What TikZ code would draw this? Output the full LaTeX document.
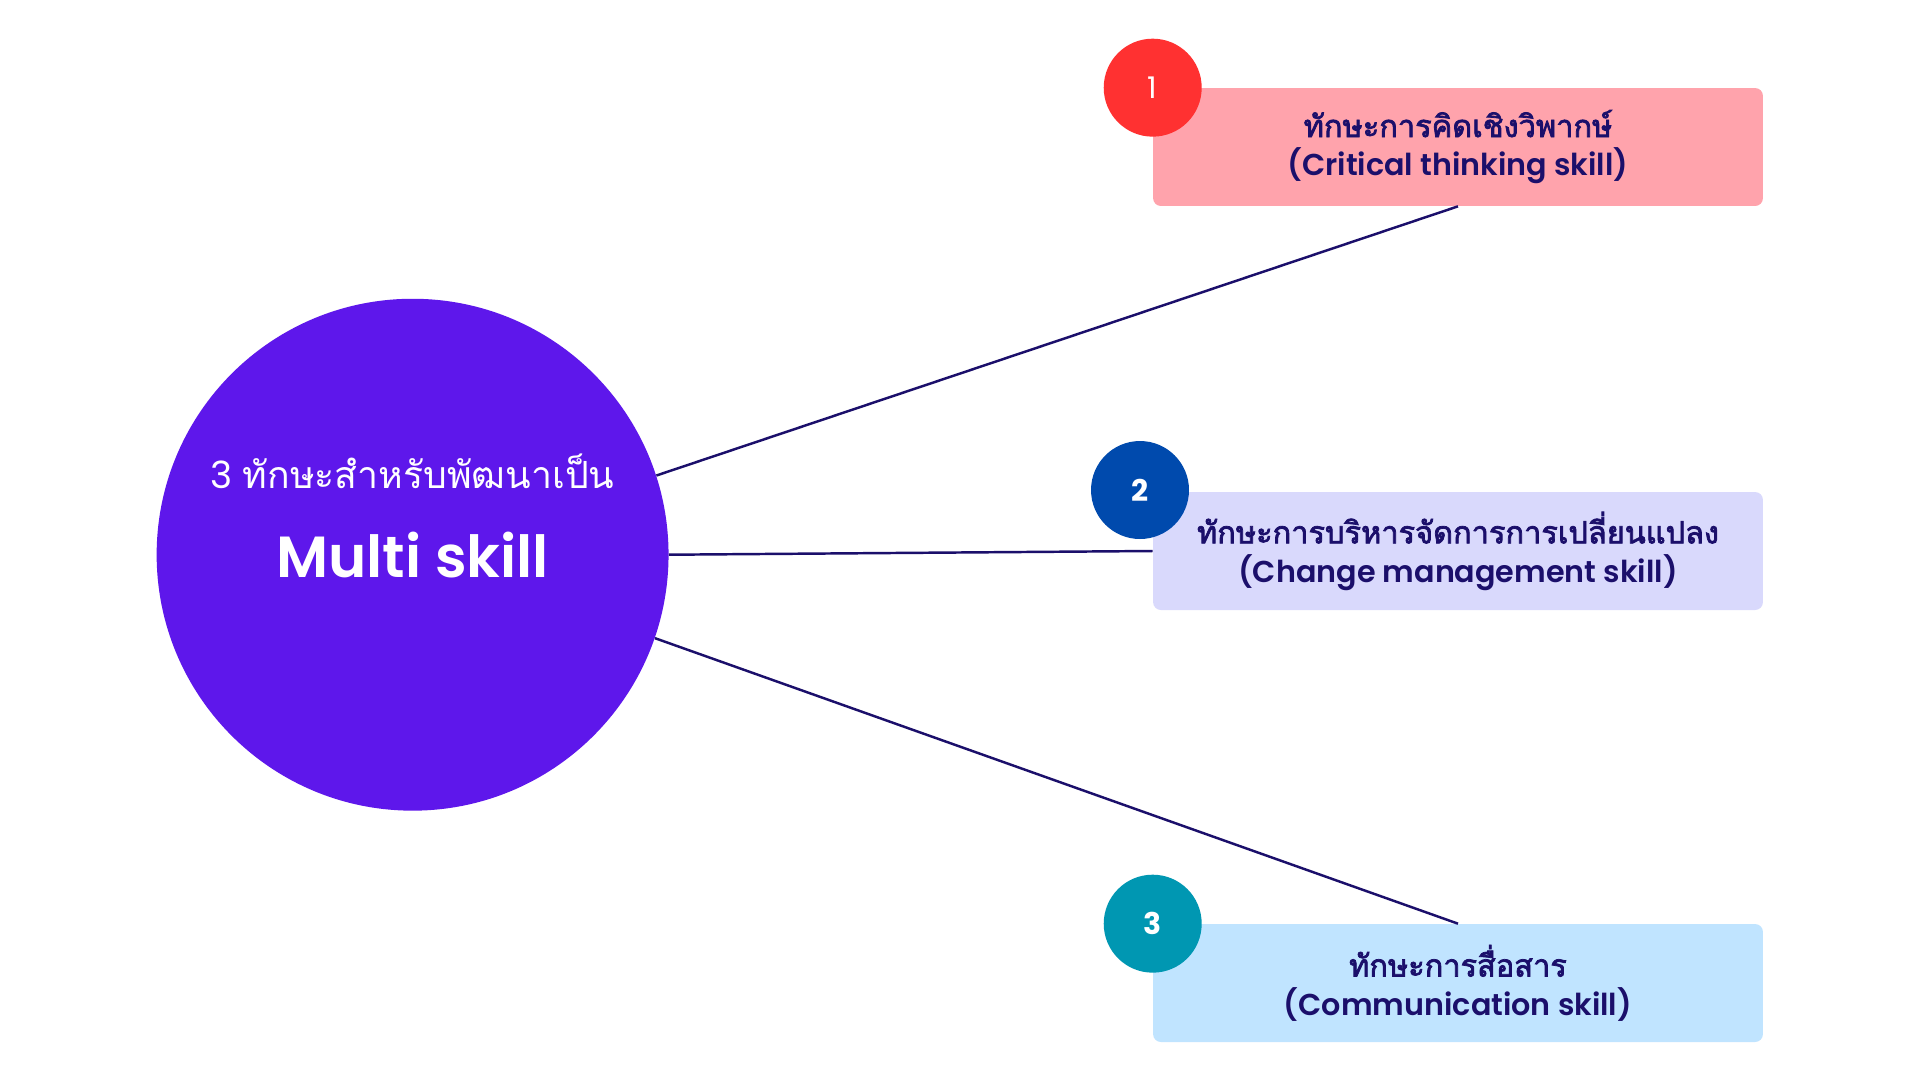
\documentclass[tikz,border=0pt]{standalone}
\usepackage{fontspec}
\setmainfont{Poppins}
\newfontfamily\thaifont[Script=Thai]{Loma}
\newfontfamily\thaiheavy[Script=Thai,FakeBold=2.4]{Loma}
\newfontfamily\latinmedium{Poppins}[UprightFont={* SemiBold}]
\usetikzlibrary{positioning}
\definecolor{hubviolet}{HTML}{5E17EB}
\definecolor{ink}{HTML}{1B0F6B}
\definecolor{boxcritical}{HTML}{FFA3AC}
\definecolor{boxchange}{HTML}{D9D9FC}
\definecolor{boxcomm}{HTML}{C0E4FF}
\definecolor{badgecritical}{HTML}{FF3131}
\definecolor{badgechange}{HTML}{004AAD}
\definecolor{badgecomm}{HTML}{0097B2}

\begin{document}
\begin{tikzpicture}[
  x=0.02cm,
  y=-0.02cm,
  hub/.style={circle, fill=hubviolet, minimum size=10.24cm, inner sep=0pt},
  hubtext/.style={text=white, align=center},
  skillbox/.style={rounded corners=4.5pt, minimum width=12.2cm, minimum height=2.36cm,
    inner sep=0pt, align=center, text=ink, font=\latinmedium\fontsize{17.2}{22}\selectfont},
  badge/.style={circle, minimum size=1.96cm, inner sep=0pt, text=white,
    font=\fontsize{17}{20}\selectfont},
  link/.style={draw=ink, line width=1.4pt}
]
  \useasboundingbox[fill=white] (0,0) rectangle (1920,1080);

  % Centre circle.
  \node[hub] (hub) at (412.6,554.7) {};
  \node[hubtext, font=\fontsize{21.3}{25}\selectfont] (hubtop) at (412.6,471)
    {3 {\thaifont ทักษะสำหรับพัฒนาเป็น}};
  \node[hubtext, font=\latinmedium\fontsize{33}{40}\selectfont] (hubname) at (hub.center)
    {Multi skill};

  % The three skills.
  \node[skillbox, fill=boxcritical] (critical) at (1458,147)
    {{\thaiheavy\fontsize{17.5}{22}\selectfont ทักษะการคิดเชิงวิพากษ์}\\(Critical thinking skill)};
  \node[skillbox, fill=boxchange] (change) at (1458,551)
    {{\thaiheavy\fontsize{17.5}{22}\selectfont ทักษะการบริหารจัดการการเปลี่ยนแปลง}\\(Change management skill)};
  \node[skillbox, fill=boxcomm] (comm) at (1458,983)
    {{\thaiheavy\fontsize{17.5}{22}\selectfont ทักษะการสื่อสาร}\\(Communication skill)};

  % Number badges.
  \node[badge, fill=badgecritical] (one) at (critical.north west) {1};
  \node[badge, fill=badgechange, font=\fontsize{17}{20}\selectfont\bfseries] (two) at (1140,490) {2};
  \node[badge, fill=badgecomm, font=\fontsize{17}{20}\selectfont\bfseries] (three) at (comm.north west) {3};

  % Connectors.
  \draw[link] (hub.18.6) -- (critical.south);
  \draw[link] (hub.east) -- (change.west);
  \draw[link] (hub.-19.2) -- (comm.north);

\end{tikzpicture}
\end{document}
